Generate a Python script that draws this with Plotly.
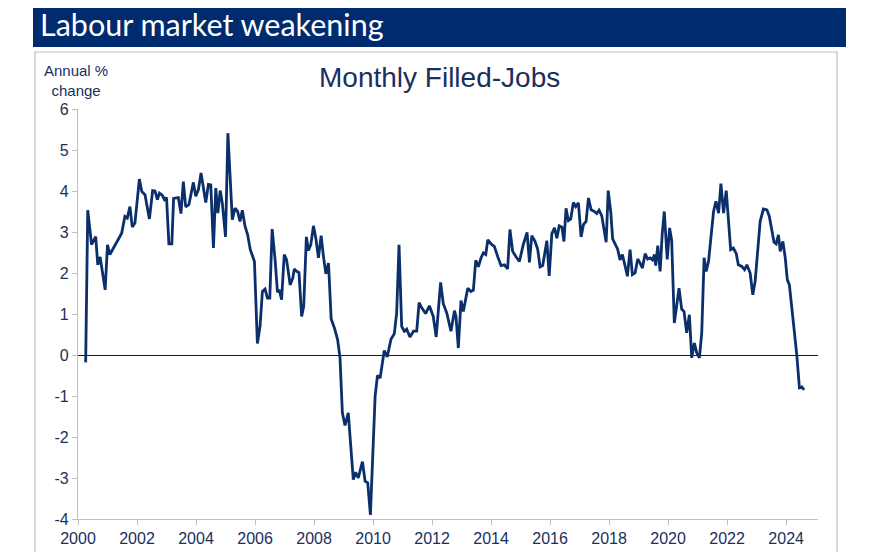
import plotly.graph_objects as go

# ---- data ----
dates = [
    2000.26, 2000.33, 2000.46, 2000.60, 2000.67, 2000.75, 2000.92, 2001.00, 2001.08, 2001.37,
    2001.48, 2001.59, 2001.67, 2001.76, 2001.84, 2001.93, 2002.08, 2002.16, 2002.27, 2002.42,
    2002.53, 2002.61, 2002.69, 2002.76, 2002.86, 2002.93, 2003.00, 2003.08, 2003.18, 2003.24,
    2003.40, 2003.49, 2003.57, 2003.65, 2003.76, 2003.91, 2003.99, 2004.08, 2004.17, 2004.33,
    2004.42, 2004.50, 2004.59, 2004.67, 2004.74, 2004.82, 2004.89, 2005.00, 2005.08, 2005.23,
    2005.32, 2005.41, 2005.49, 2005.57, 2005.66, 2005.75, 2005.84, 2005.98, 2006.08, 2006.17,
    2006.25, 2006.34, 2006.42, 2006.50, 2006.58, 2006.68, 2006.76, 2006.82, 2006.90, 2006.99,
    2007.07, 2007.19, 2007.28, 2007.33, 2007.41, 2007.49, 2007.58, 2007.65, 2007.74, 2007.81,
    2007.89, 2007.98, 2008.06, 2008.15, 2008.24, 2008.32, 2008.40, 2008.49, 2008.58, 2008.69,
    2008.80, 2008.88, 2008.96, 2009.05, 2009.16, 2009.33, 2009.41, 2009.50, 2009.64, 2009.73,
    2009.82, 2009.91, 2009.99, 2010.07, 2010.15, 2010.24, 2010.38, 2010.48, 2010.61, 2010.72,
    2010.80, 2010.88, 2010.97, 2011.06, 2011.14, 2011.25, 2011.37, 2011.48, 2011.56, 2011.65,
    2011.78, 2011.91, 2012.04, 2012.14, 2012.29, 2012.38, 2012.50, 2012.64, 2012.76, 2012.81,
    2012.89, 2012.98, 2013.06, 2013.21, 2013.32, 2013.40, 2013.48, 2013.57, 2013.66, 2013.74,
    2013.82, 2013.89, 2014.00, 2014.11, 2014.23, 2014.34, 2014.45, 2014.56, 2014.64, 2014.73,
    2014.85, 2014.96, 2015.09, 2015.22, 2015.30, 2015.38, 2015.49, 2015.58, 2015.66, 2015.75,
    2015.89, 2015.97, 2016.06, 2016.15, 2016.23, 2016.31, 2016.40, 2016.47, 2016.54, 2016.62,
    2016.70, 2016.79, 2016.87, 2016.96, 2017.05, 2017.13, 2017.22, 2017.30, 2017.39, 2017.50,
    2017.58, 2017.66, 2017.75, 2017.80, 2017.90, 2017.97, 2018.06, 2018.12, 2018.20, 2018.29,
    2018.37, 2018.45, 2018.54, 2018.62, 2018.71, 2018.79, 2018.88, 2018.97, 2019.05, 2019.13,
    2019.22, 2019.31, 2019.39, 2019.47, 2019.54, 2019.58, 2019.65, 2019.73, 2019.80, 2019.87,
    2019.97, 2020.05, 2020.12, 2020.21, 2020.37, 2020.46, 2020.54, 2020.63, 2020.72, 2020.80,
    2020.89, 2020.97, 2021.06, 2021.14, 2021.22, 2021.29, 2021.37, 2021.45, 2021.54, 2021.62,
    2021.71, 2021.79, 2021.88, 2021.97, 2022.04, 2022.12, 2022.21, 2022.31, 2022.38, 2022.50,
    2022.59, 2022.67, 2022.78, 2022.87, 2022.95, 2023.03, 2023.12, 2023.23, 2023.35, 2023.43,
    2023.51, 2023.59, 2023.66, 2023.74, 2023.80, 2023.89, 2023.97, 2024.04, 2024.11, 2024.19,
    2024.27, 2024.36, 2024.45, 2024.53, 2024.61,
]
filled_jobs_pct = [
    -0.18, 3.53, 2.69, 2.89, 2.20, 2.39, 1.59, 2.69, 2.45, 2.85,
    2.97, 3.38, 3.34, 3.62, 3.12, 3.22, 4.29, 3.99, 3.91, 3.32,
    4.01, 4.00, 3.79, 3.95, 3.89, 3.79, 3.84, 2.71, 2.71, 3.82,
    3.84, 3.45, 4.23, 3.61, 3.67, 4.21, 3.87, 4.03, 4.44, 3.72,
    4.16, 4.15, 2.61, 4.07, 3.46, 4.01, 3.71, 2.88, 5.41, 3.30,
    3.58, 3.50, 3.26, 3.53, 3.14, 2.93, 2.57, 2.28, 0.28, 0.70,
    1.55, 1.61, 1.39, 1.39, 3.07, 2.32, 1.53, 1.59, 1.35, 2.45,
    2.32, 1.71, 1.88, 2.10, 2.04, 2.01, 0.94, 1.19, 2.88, 2.55,
    2.69, 3.15, 2.85, 2.37, 2.91, 2.40, 1.98, 2.24, 0.88, 0.66,
    0.37, -0.07, -1.41, -1.72, -1.41, -3.04, -2.86, -3.00, -2.60, -3.08,
    -3.12, -3.90, -2.55, -1.01, -0.50, -0.56, 0.11, -0.05, 0.39, 0.52,
    1.02, 2.69, 0.70, 0.58, 0.63, 0.44, 0.58, 0.58, 1.28, 1.15,
    1.01, 1.20, 0.94, 0.44, 1.77, 1.25, 1.02, 0.58, 1.08, 0.94,
    0.17, 1.33, 1.06, 1.63, 1.55, 1.58, 2.31, 2.15, 2.37, 2.49,
    2.45, 2.81, 2.71, 2.65, 2.39, 2.18, 2.20, 2.10, 3.06, 2.53,
    2.39, 2.28, 2.69, 2.99, 2.26, 2.91, 2.77, 2.58, 2.15, 2.18,
    2.79, 1.93, 2.96, 3.10, 2.85, 3.15, 3.12, 2.77, 3.58, 3.28,
    3.32, 3.72, 3.62, 3.71, 2.88, 3.18, 3.26, 3.83, 3.54, 3.50,
    3.45, 3.53, 3.40, 3.18, 2.75, 4.01, 3.46, 2.83, 2.69, 2.58,
    2.32, 2.45, 2.18, 1.92, 2.57, 1.96, 2.00, 2.34, 2.24, 2.12,
    2.47, 2.34, 2.37, 2.32, 2.45, 2.18, 2.67, 2.04, 2.95, 3.50,
    2.33, 3.10, 2.80, 0.78, 1.63, 1.12, 1.06, 0.54, 0.98, -0.07,
    0.29, 0.05, -0.07, 0.54, 2.37, 2.04, 2.28, 2.81, 3.50, 3.75,
    3.46, 4.18, 3.46, 4.01, 3.34, 2.57, 2.61, 2.47, 2.20, 2.16,
    2.08, 2.20, 2.00, 1.47, 1.80, 2.57, 3.26, 3.56, 3.54, 3.38,
    3.06, 2.75, 2.71, 2.93, 2.53, 2.77, 2.37, 1.84, 1.71, 1.19,
    0.62, 0.01, -0.80, -0.78, -0.85,
]
x_ticks = list(range(2000, 2025, 2))
x_tick_labels = [str(t) for t in x_ticks]
y_ticks = list(range(-4, 7))
y_tick_labels = [str(t) for t in y_ticks]  # plain hyphen minus, as in the reference

NAVY = "#0B2F6B"
TEXT_NAVY = "#1B2F5E"
BAR_NAVY = "#002B6E"
AXIS_GRAY = "#BFBFBF"

# The page body has an 8px margin, so target page pixels are offset by 8.
OFF = 8
FW, FH = 876, 552
# plot area in page pixels: x 78..818, y 109..519
L, R, T, B = 78 - OFF, 818 - OFF, 109 - OFF, 519 - OFF
W, H = R - L, B - T


def px(xp):
    """page x pixel -> paper coordinate"""
    return (xp - OFF - L) / W


def py(yp):
    """page y pixel -> paper coordinate"""
    return (B - (yp - OFF)) / H


fig = go.Figure()
fig.add_trace(go.Scatter(
    x=dates, y=filled_jobs_pct, mode="lines",
    line=dict(color=NAVY, width=2.8),
    hoverinfo="x+y", showlegend=False,
))

shapes = [
    # header bar
    dict(type="rect", xref="paper", yref="paper",
         x0=px(33), x1=px(846), y0=py(47), y1=py(-10),
         fillcolor=BAR_NAVY, line=dict(width=0), layer="below"),
    # chart frame
    dict(type="rect", xref="paper", yref="paper",
         x0=px(35), x1=px(837), y0=py(580), y1=py(52),
         fillcolor="rgba(0,0,0,0)", line=dict(color="#BDBDBD", width=1.2), layer="below"),
]

annotations = [
    dict(text="Labour market weakening", xref="paper", yref="paper",
         x=px(38), y=py(44), xanchor="left", yanchor="bottom", showarrow=False,
         font=dict(family="Lato, Open Sans, sans-serif", size=30.5, color="white")),
    dict(text="Monthly Filled-Jobs", xref="paper", yref="paper",
         x=px(439), y=py(78), xanchor="center", yanchor="middle", showarrow=False,
         font=dict(family="Liberation Sans, Arial, sans-serif", size=28, color=TEXT_NAVY)),
    dict(text="Annual %<br>change", xref="paper", yref="paper",
         x=px(76), y=py(81), xanchor="center", yanchor="middle", showarrow=False,
         align="center",
         font=dict(family="Liberation Sans, Arial, sans-serif", size=15, color=TEXT_NAVY)),
]

fig.update_layout(
    width=FW, height=FH,
    margin=dict(l=L, r=FW - R, t=T, b=FH - B, pad=0),
    paper_bgcolor="white", plot_bgcolor="white",
    shapes=shapes, annotations=annotations,
    xaxis=dict(
        range=[2000, 2025.08], tickmode="array", tickvals=x_ticks, ticktext=x_tick_labels,
        showgrid=False, zeroline=False, showline=True, linecolor=AXIS_GRAY, linewidth=1.2,
        ticks="outside", ticklen=5, tickcolor=AXIS_GRAY, tickwidth=1,
        tickfont=dict(family="Liberation Sans, Arial, sans-serif", size=16, color=TEXT_NAVY),
        fixedrange=True,
    ),
    yaxis=dict(
        range=[-4, 6], tickmode="array", tickvals=y_ticks, ticktext=y_tick_labels,
        showgrid=False, zeroline=True, zerolinecolor="#1A1A1A", zerolinewidth=1,
        showline=True, linecolor=AXIS_GRAY, linewidth=1.2,
        ticks="outside", ticklen=5, tickcolor=AXIS_GRAY, tickwidth=1,
        tickfont=dict(family="Liberation Sans, Arial, sans-serif", size=16, color=TEXT_NAVY),
        fixedrange=True,
    ),
)

fig.write_html("out.html", config={"displayModeBar": False})
